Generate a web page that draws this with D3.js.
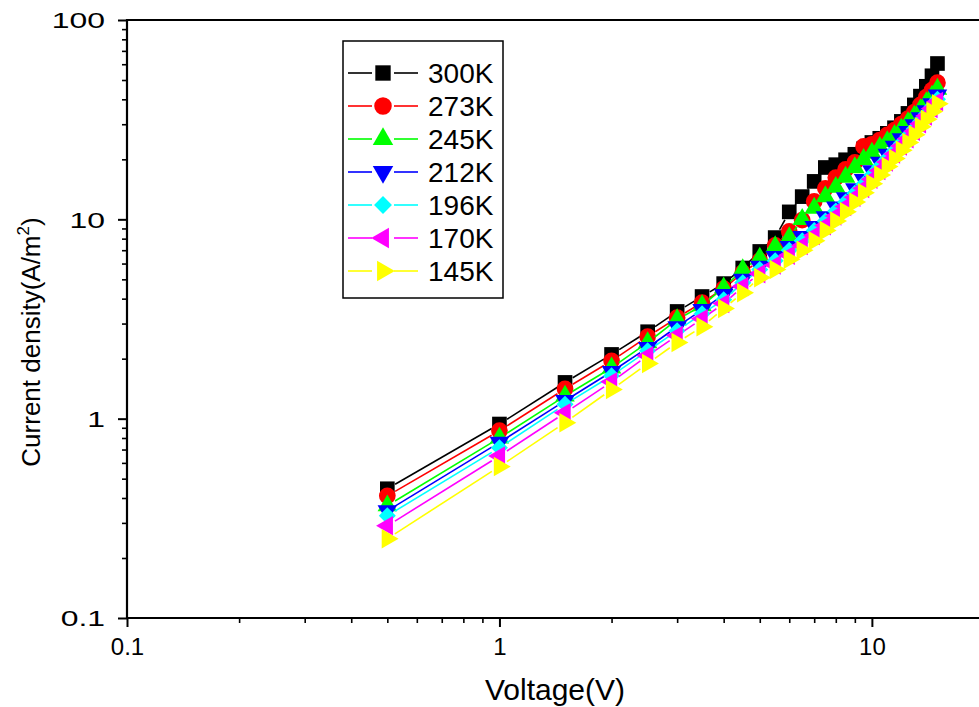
<!DOCTYPE html>
<html>
<head>
<meta charset="utf-8">
<script src="https://cdn.jsdelivr.net/npm/d3@7"></script>
<style>
  html, body { margin: 0; padding: 0; background: #fff; }
  svg { display: block; }
  text { font-family: "Liberation Sans", Arial, sans-serif; fill: #000; }
</style>
</head>
<body>
<svg id="chart" width="979" height="707"></svg>
<script>
// Bias voltage (V)
const voltages = [0.5, 1, 1.5, 2, 2.5, 3, 3.5, 4, 4.5, 5, 5.5, 6, 6.5, 7, 7.5,
                  8, 8.5, 9, 9.5, 10, 10.5, 11, 11.5, 12, 12.5, 13, 13.5, 14, 14.5, 15];

// Current density (A/m^2) at each temperature
const j300K = [0.445, 0.94, 1.52, 2.10, 2.73, 3.45, 4.10, 4.76, 5.70, 6.9, 8.1, 10.9, 13.0, 15.5, 18.2,
               18.8, 19.9, 21.2, 22.6, 24.3, 25.5, 27.0, 28.8, 31.0, 34.0, 37.5, 41.5, 46.5, 52.5, 60.5];
const j273K = [0.41, 0.87, 1.41, 1.95, 2.58, 3.21, 3.82, 4.49, 5.40, 6.2, 7.4, 8.7, 9.9, 12.3, 14.3,
               16.2, 17.8, 19.3, 23.2, 23.8, 25.0, 26.5, 28.0, 30.0, 32.0, 34.5, 37.5, 41.0, 44.5, 48.5];
const j245K = [0.366, 0.80, 1.30, 1.80, 2.41, 3.14, 3.69, 4.54, 5.60, 6.4, 7.3, 8.1, 10.0, 11.4, 13.0,
               14.5, 16.3, 18.2, 20.0, 21.5, 23.0, 24.6, 26.4, 28.4, 30.6, 33.0, 35.6, 38.5, 41.5, 45.0];
const j212K = [0.345, 0.76, 1.23, 1.72, 2.27, 2.89, 3.52, 4.19, 5.00, 5.8, 6.5, 7.3, 8.2, 9.2, 10.3,
               11.5, 12.8, 14.2, 15.8, 17.5, 19.3, 21.2, 23.2, 25.3, 27.5, 29.8, 32.3, 35.0, 38.0, 42.0];
const j196K = [0.326, 0.715, 1.18, 1.64, 2.19, 2.76, 3.36, 3.95, 4.80, 5.6, 6.2, 7.0, 7.8, 8.8, 9.8,
               11.0, 12.2, 13.5, 15.0, 16.7, 18.4, 20.2, 22.1, 24.1, 26.2, 28.5, 31.0, 33.8, 36.8, 40.0];
const j170K = [0.29, 0.65, 1.07, 1.53, 2.07, 2.61, 3.17, 3.78, 4.60, 5.34, 5.9, 6.6, 7.4, 8.3, 9.3,
               10.4, 11.6, 12.9, 14.3, 15.9, 17.6, 19.4, 21.3, 23.3, 25.4, 27.7, 30.2, 33.0, 36.0, 39.0];
const j145K = [0.25, 0.575, 0.955, 1.40, 1.89, 2.41, 2.89, 3.57, 4.28, 5.1, 5.6, 6.3, 7.0, 7.8, 8.8,
               9.8, 10.9, 12.2, 13.6, 15.1, 16.7, 18.4, 20.2, 22.2, 24.3, 26.6, 29.1, 31.8, 34.8, 38.0];

const seriesLabels = ["300K", "273K", "245K", "212K", "196K", "170K", "145K"];
const seriesValues = [j300K, j273K, j245K, j212K, j196K, j170K, j145K];
const seriesColors = ["#000000", "#ff0000", "#00ff00", "#0000ff", "#00ffff", "#ff00ff", "#ffff00"];

const xMajorTicks = [0.1, 1, 10];
const yMajorTicks = [0.1, 1, 10, 100];
const xTickLabels = ["0.1", "1", "10"];
const yTickLabels = ["0.1", "1", "10", "100"];

const svg = d3.select("#chart");
const plotL = 127, plotR = 984, plotT = 20, plotB = 618;

const x = d3.scaleLog().domain([0.1, 20]).range([plotL, plotR]);
const y = d3.scaleLog().domain([0.1, 100]).range([plotB, plotT]);

// marker shapes: square, circle, up/down/left/right triangles, diamond
const markerDefs = [
  { type: d3.symbolSquare, size: 215, rot: 0 },
  { type: d3.symbolCircle, size: 220, rot: 0 },
  { type: d3.symbolTriangle, size: 165, rot: 0 },
  { type: d3.symbolTriangle, size: 165, rot: 180 },
  { type: d3.symbolDiamond2, size: 185, rot: 0 },
  { type: d3.symbolTriangle, size: 165, rot: -90 },
  { type: d3.symbolTriangle, size: 165, rot: 90 }
];

// minor ticks for the log axes
function minorTicks(lo, hi) {
  const out = [];
  for (let d = lo; d < hi; d *= 10) {
    for (let k = 2; k <= 9; k++) out.push(d * k);
  }
  return out;
}

// ----- axes -----
const fmtX = v => xTickLabels[xMajorTicks.indexOf(v)];
const fmtY = v => yTickLabels[yMajorTicks.indexOf(v)];

const gx = svg.append("g").attr("transform", `translate(0,${plotB})`);
gx.call(d3.axisBottom(x).tickValues(minorTicks(0.1, 20).filter(v => v <= 20)).tickSize(5).tickFormat(""))
  .call(g => g.select(".domain").remove());
gx.selectAll(".tick line").attr("stroke-width", 1.6);
const gxMaj = svg.append("g").attr("transform", `translate(0,${plotB})`);
gxMaj.call(d3.axisBottom(x).tickValues(xMajorTicks).tickSize(9).tickPadding(11).tickFormat(fmtX));
gxMaj.select(".domain").remove();
gxMaj.selectAll(".tick line").attr("stroke-width", 2);
gxMaj.selectAll(".tick text").attr("font-size", 24).attr("font-family", "Liberation Sans, Arial, sans-serif");

const gy = svg.append("g").attr("transform", `translate(${plotL},0)`);
gy.call(d3.axisLeft(y).tickValues(minorTicks(0.1, 100)).tickSize(5).tickFormat(""))
  .call(g => g.select(".domain").remove());
gy.selectAll(".tick line").attr("stroke-width", 1.6);
const gyMaj = svg.append("g").attr("transform", `translate(${plotL},0)`);
gyMaj.call(d3.axisLeft(y).tickValues(yMajorTicks).tickSize(9).tickFormat(""));
gyMaj.select(".domain").remove();
gyMaj.selectAll(".tick line").attr("stroke-width", 2);
// y tick labels are set in a wide face
gyMaj.selectAll(".tick").append("text")
  .attr("transform", "translate(-22,0) scale(1.45,1)")
  .attr("text-anchor", "end")
  .attr("dy", "0.36em")
  .attr("font-size", 22)
  .attr("fill", "#000")
  .attr("font-family", "Liberation Sans, Arial, sans-serif")
  .text(fmtY);

// frame lines: left axis, bottom axis, top edge
svg.append("line").attr("x1", plotL).attr("x2", plotL).attr("y1", plotT - 1).attr("y2", plotB + 1)
  .attr("stroke", "#000").attr("stroke-width", 2.2);
svg.append("line").attr("x1", plotL).attr("x2", 979).attr("y1", plotB).attr("y2", plotB)
  .attr("stroke", "#000").attr("stroke-width", 2.2);
svg.append("line").attr("x1", plotL).attr("x2", 979).attr("y1", plotT).attr("y2", plotT)
  .attr("stroke", "#000").attr("stroke-width", 2.2);

// axis titles
svg.append("text")
  .attr("x", 555).attr("y", 700)
  .attr("text-anchor", "middle")
  .attr("font-size", 30)
  .text("Voltage(V)");

const yt = svg.append("text")
  .attr("transform", "translate(40,342) rotate(-90)")
  .attr("text-anchor", "middle")
  .attr("font-size", 26);
yt.append("tspan").text("Current density(A/m");
yt.append("tspan").attr("font-size", 17).attr("dy", -11).text("2");
yt.append("tspan").attr("dy", 11).text(")");

// ----- series -----
const gap = 9;
seriesValues.forEach((vals, i) => {
  const g = svg.append("g");
  const pts = voltages.map((v, k) => [x(v), y(vals[k])]);
  // connecting segments stop short of each marker
  const segs = [];
  for (let k = 0; k < pts.length - 1; k++) {
    const [x1, y1] = pts[k], [x2, y2] = pts[k + 1];
    const len = Math.hypot(x2 - x1, y2 - y1);
    if (len <= 2 * gap + 1) continue;
    const ux = (x2 - x1) / len, uy = (y2 - y1) / len;
    segs.push([x1 + ux * gap, y1 + uy * gap, x2 - ux * gap, y2 - uy * gap]);
  }
  g.selectAll("line.seg").data(segs).join("line")
    .attr("class", "seg")
    .attr("x1", d => d[0]).attr("y1", d => d[1])
    .attr("x2", d => d[2]).attr("y2", d => d[3])
    .attr("stroke", seriesColors[i]).attr("stroke-width", 1.6);
  const m = markerDefs[i];
  g.selectAll("path.mk").data(pts).join("path")
    .attr("class", "mk")
    .attr("d", d3.symbol().type(m.type).size(m.size)())
    .attr("transform", d => `translate(${d[0]},${d[1]}) rotate(${m.rot})`)
    .attr("fill", seriesColors[i]);
});

// ----- legend -----
const lg = svg.append("g");
lg.append("rect")
  .attr("x", 343).attr("y", 41).attr("width", 160).attr("height", 257)
  .attr("fill", "#fff").attr("stroke", "#000").attr("stroke-width", 1.5);
seriesLabels.forEach((lab, i) => {
  const cy = 73 + i * 33;
  const m = markerDefs[i];
  lg.append("line").attr("x1", 348).attr("x2", 372).attr("y1", cy).attr("y2", cy)
    .attr("stroke", seriesColors[i]).attr("stroke-width", 1.6);
  lg.append("line").attr("x1", 394).attr("x2", 418).attr("y1", cy).attr("y2", cy)
    .attr("stroke", seriesColors[i]).attr("stroke-width", 1.6);
  lg.append("path")
    .attr("d", d3.symbol().type(m.type).size(m.size * 1.1)())
    .attr("transform", `translate(383,${cy}) rotate(${m.rot})`)
    .attr("fill", seriesColors[i]);
  lg.append("text").attr("x", 428).attr("y", cy).attr("dy", "0.36em")
    .attr("font-size", 28).text(lab);
});
</script>
</body>
</html>
